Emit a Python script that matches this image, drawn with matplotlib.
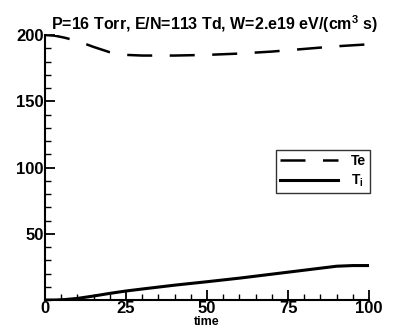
import matplotlib
matplotlib.use('Agg')
import matplotlib.pyplot as plt
from matplotlib.ticker import MultipleLocator

plt.rcParams['font.family'] = ['Liberation Sans', 'DejaVu Sans']
plt.rcParams['font.weight'] = 'bold'
plt.rcParams['mathtext.default'] = 'regular'

# electron temperature
time_te = [0, 3, 6, 10, 15, 20, 25, 30, 40, 50, 60, 70, 80, 90, 100]
te = [200, 199.5, 198, 195.5, 191, 187, 185, 184.5, 184.5, 185, 186, 187.5, 189.5, 191.5, 193]

# gas temperature
time_t = [0, 3, 6, 10, 15, 20, 25, 30, 40, 50, 60, 70, 80, 90, 95, 100]
t = [0, 0, 0.3, 1.2, 3, 5, 6.8, 8.3, 11.2, 13.8, 16.5, 19.5, 22.5, 25.5, 26, 26]

fig = plt.figure(figsize=(3.93, 3.30), dpi=100)
ax = fig.add_axes([0.1145, 0.0909, 0.8245, 0.803])

ax.plot(time_te, te, color='black', lw=1.8, dashes=(10, 7), label='Te')
ax.plot(time_t, t, color='black', lw=2.2, label='T$_{i}$')

ax.set_xlim(0, 100)
ax.set_ylim(0, 200)
ax.xaxis.set_major_locator(MultipleLocator(25))
ax.xaxis.set_minor_locator(MultipleLocator(5))
ax.yaxis.set_major_locator(MultipleLocator(50))
ax.yaxis.set_minor_locator(MultipleLocator(10))
ax.set_yticks([50, 100, 150, 200])
ax.tick_params(which='major', direction='in', length=7, width=1.3, labelsize=12, pad=1)
ax.tick_params(which='minor', direction='in', length=4, width=1)
for lab in ax.get_xticklabels() + ax.get_yticklabels():
    lab.set_fontweight('bold')

ax.spines['top'].set_visible(False)
ax.spines['right'].set_visible(False)
ax.spines['left'].set_linewidth(1.5)
ax.spines['bottom'].set_linewidth(1.5)

ax.set_xlabel('time', fontsize=9, fontweight='bold', labelpad=0)
ax.set_title('P=16 Torr, E/N=113 Td, W=2.e19 eV/(cm$^3$ s)',
             fontsize=11.5, fontweight='bold', pad=2, loc='left', x=0.02)

leg = ax.legend(loc='center right', bbox_to_anchor=(1.025, 0.485), frameon=True,
                fancybox=False, edgecolor='black', fontsize=10, handlelength=4.2,
                borderpad=0.3, labelspacing=0.3, handletextpad=0.9)
leg.get_frame().set_linewidth(1.0)
for txt in leg.get_texts():
    txt.set_fontweight('bold')

fig.savefig('out.png', dpi=100)
